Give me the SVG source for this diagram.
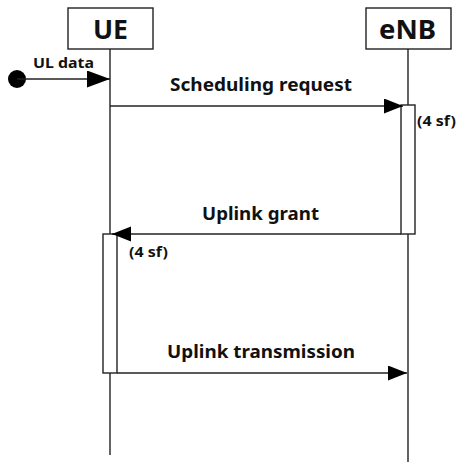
<svg xmlns="http://www.w3.org/2000/svg" width="467" height="462" viewBox="0 0 467 462">
<style>
.box{fill:#fff;stroke:#222;stroke-width:1.4}
.ln{stroke:#222;stroke-width:1.4;fill:none}
.t{font-family:"Noto Sans","Open Sans","DejaVu Sans",sans-serif;font-weight:bold;fill:#111}
</style>
<defs>
<marker id="ah" markerWidth="20" markerHeight="16" refX="19" refY="7.5" orient="auto" markerUnits="userSpaceOnUse">
<path d="M0,0 L19,7.5 L0,15 Z" fill="#000"/>
</marker>
<marker id="ah2" markerWidth="24" markerHeight="18" refX="23" refY="8.5" orient="auto" markerUnits="userSpaceOnUse">
<path d="M0,0 L23,8.5 L0,17 Z" fill="#000"/>
</marker>
</defs>
<rect width="467" height="462" fill="#fff"/>
<g id="lifelines">
<line class="ln" x1="110" y1="49" x2="110" y2="455"/>
<line class="ln" x1="408" y1="49" x2="408" y2="462"/>
</g>
<g id="UE">
<rect class="box" x="68" y="8" width="85" height="41"/>
<text class="t" x="110.5" y="39" font-size="27" text-anchor="middle" textLength="35" lengthAdjust="spacingAndGlyphs">UE</text>
</g>
<g id="eNB">
<rect class="box" x="366" y="8" width="85" height="41"/>
<text class="t" x="407.5" y="39" font-size="27" text-anchor="middle" textLength="57" lengthAdjust="spacingAndGlyphs">eNB</text>
</g>
<g id="eNB-activation">
<rect class="box" x="401" y="105" width="14" height="129"/>
<text class="t" x="417" y="126" font-size="14" textLength="39" lengthAdjust="spacingAndGlyphs">(4 sf)</text>
</g>
<g id="UE-activation">
<rect class="box" x="103" y="234" width="14" height="139"/>
<text class="t" x="129" y="257" font-size="14" textLength="39" lengthAdjust="spacingAndGlyphs">(4 sf)</text>
</g>
<g id="start">
<circle cx="17" cy="79" r="9" fill="#000"/>
</g>
<g id="connectors">
<line class="ln" x1="17" y1="79" x2="110" y2="79" marker-end="url(#ah2)"/>
<text class="t" x="33" y="68" font-size="14.5" textLength="61" lengthAdjust="spacingAndGlyphs">UL data</text>
<line class="ln" x1="110" y1="106" x2="403" y2="106" marker-end="url(#ah)"/>
<text class="t" x="170" y="91" font-size="17" textLength="182" lengthAdjust="spacingAndGlyphs">Scheduling request</text>
<line class="ln" x1="401" y1="234" x2="112" y2="234" marker-end="url(#ah)"/>
<text class="t" x="202" y="220" font-size="17" textLength="117" lengthAdjust="spacingAndGlyphs">Uplink grant</text>
<line class="ln" x1="117" y1="373" x2="407" y2="373" marker-end="url(#ah)"/>
<text class="t" x="167" y="358" font-size="17" textLength="188" lengthAdjust="spacingAndGlyphs">Uplink transmission</text>
</g>
</svg>
